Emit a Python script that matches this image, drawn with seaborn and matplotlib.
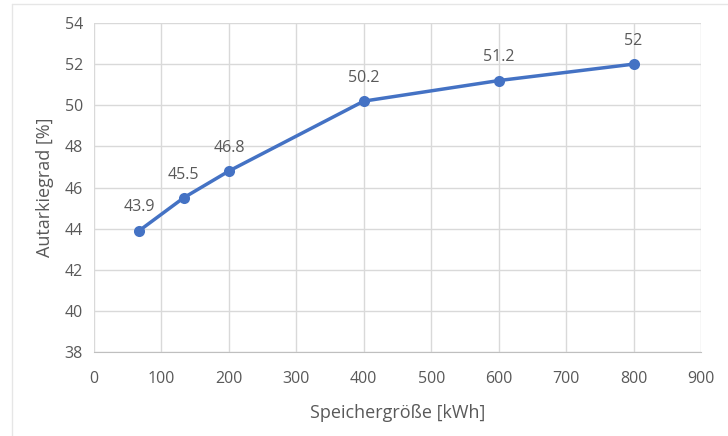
import numpy as np
import pandas as pd
import seaborn as sns
import matplotlib.pyplot as plt
from matplotlib.lines import Line2D

# Data
speicher_kwh = [67, 133, 200, 400, 600, 800]
autarkie_pct = [43.9, 45.5, 46.8, 50.2, 51.2, 52.0]
labels = ['43.9', '45.5', '46.8', '50.2', '51.2', '52']

df = pd.DataFrame({'Speicher': speicher_kwh, 'Autarkie': autarkie_pct})

sns.set_style('white')
plt.rcParams['font.family'] = ['Open Sans', 'DejaVu Sans']

fig = plt.figure(figsize=(7.28, 4.36), dpi=100)
ax = fig.add_axes([94 / 728, 1 - 352 / 436, (701 - 94) / 728, (352 - 23) / 436])

sns.lineplot(data=df, x='Speicher', y='Autarkie', ax=ax, color='#4472C4',
             linewidth=2.5, marker='o', markersize=8, markeredgewidth=0)

for xv, yv, lab in zip(speicher_kwh, autarkie_pct, labels):
    ax.annotate(lab, (xv, yv), xytext=(0, 11), textcoords='offset points',
                ha='center', va='bottom', fontsize=11.5, color='#595959')

ax.set_xlim(0, 900)
ax.set_ylim(38, 54)
ax.set_xticks(range(0, 901, 100))
ax.set_yticks(range(38, 55, 2))
ax.grid(True, color='#d9d9d9', linewidth=1)
ax.set_axisbelow(True)
for side in ['top', 'right', 'left']:
    ax.spines[side].set_visible(False)
ax.spines['bottom'].set_color('#bfbfbf')
ax.tick_params(axis='x', length=0, labelsize=11.5, labelcolor='#595959', pad=14)
ax.tick_params(axis='y', length=0, labelsize=11.5, labelcolor='#595959', pad=8)

ax.set_xlabel('Speichergröße [kWh]', fontsize=13, color='#595959', labelpad=12)
ax.set_ylabel('Autarkiegrad [%]', fontsize=13, color='#595959', labelpad=8)

# light frame of the chart area
fig.add_artist(Line2D([12 / 728, 12 / 728], [0, 1 - 4 / 436], color='#e6e6e6', lw=1))
fig.add_artist(Line2D([12 / 728, 1], [1 - 4 / 436, 1 - 4 / 436], color='#e6e6e6', lw=1))

fig.savefig('out.png', dpi=100)
